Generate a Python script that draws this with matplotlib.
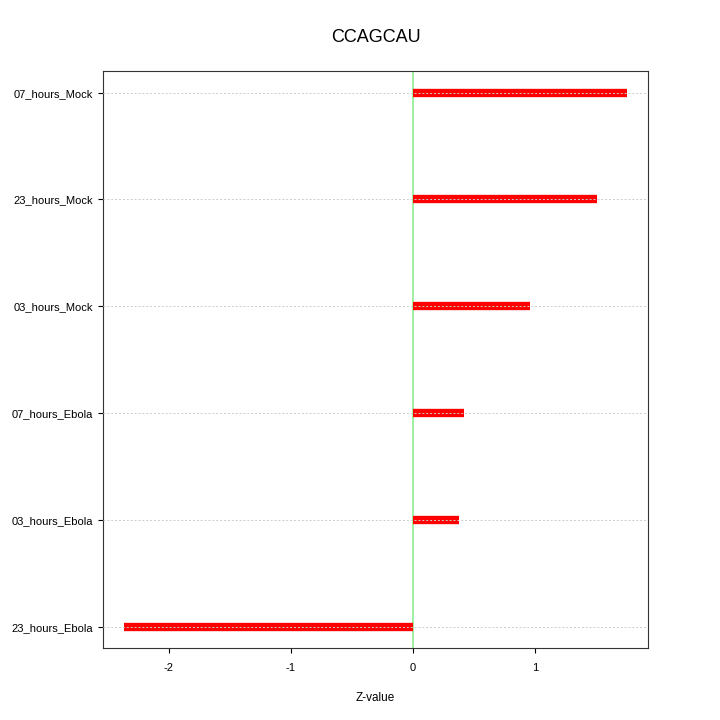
import matplotlib
matplotlib.use("Agg")
import matplotlib.pyplot as plt

plt.rcParams['font.family'] = ['Liberation Sans', 'DejaVu Sans']

labels = ["23_hours_Ebola", "03_hours_Ebola", "07_hours_Ebola", "03_hours_Mock", "23_hours_Mock", "07_hours_Mock"]
values = [-2.37, 0.377, 0.418, 0.959, 1.508, 1.754]
xticks = [-2, -1, 0, 1]

fig = plt.figure(figsize=(7.2, 7.2), dpi=100)
ax = fig.add_axes([0.143, 0.1, 0.757, 0.801])
ypos = list(range(1, len(labels) + 1))
for y in ypos:
    ax.axhline(y, color="#cccccc", lw=0.7, ls=(0, (2, 2)), zorder=3)
ax.axvline(0, color="#90ee90", lw=1.2, zorder=1)
for y, v in zip(ypos, values):
    ax.plot([0, v], [y, y], color="red", lw=6, solid_capstyle="butt", zorder=2)
ax.set_xlim(-2.54, 1.926)
ax.set_ylim(0.8, 6.2)
ax.set_yticks(ypos)
ax.set_yticklabels(labels, fontsize=8)
ax.set_xticks(xticks)
ax.set_xticklabels([str(t) for t in xticks], fontsize=8)
ax.tick_params(axis="x", pad=7)
ax.set_xlabel("Z-value", fontsize=8.5, labelpad=14)
ax.set_title("CCAGCAU", fontsize=13, pad=21)
for s in ax.spines.values():
    s.set_color("#333333")
fig.savefig("out.png", dpi=100)
